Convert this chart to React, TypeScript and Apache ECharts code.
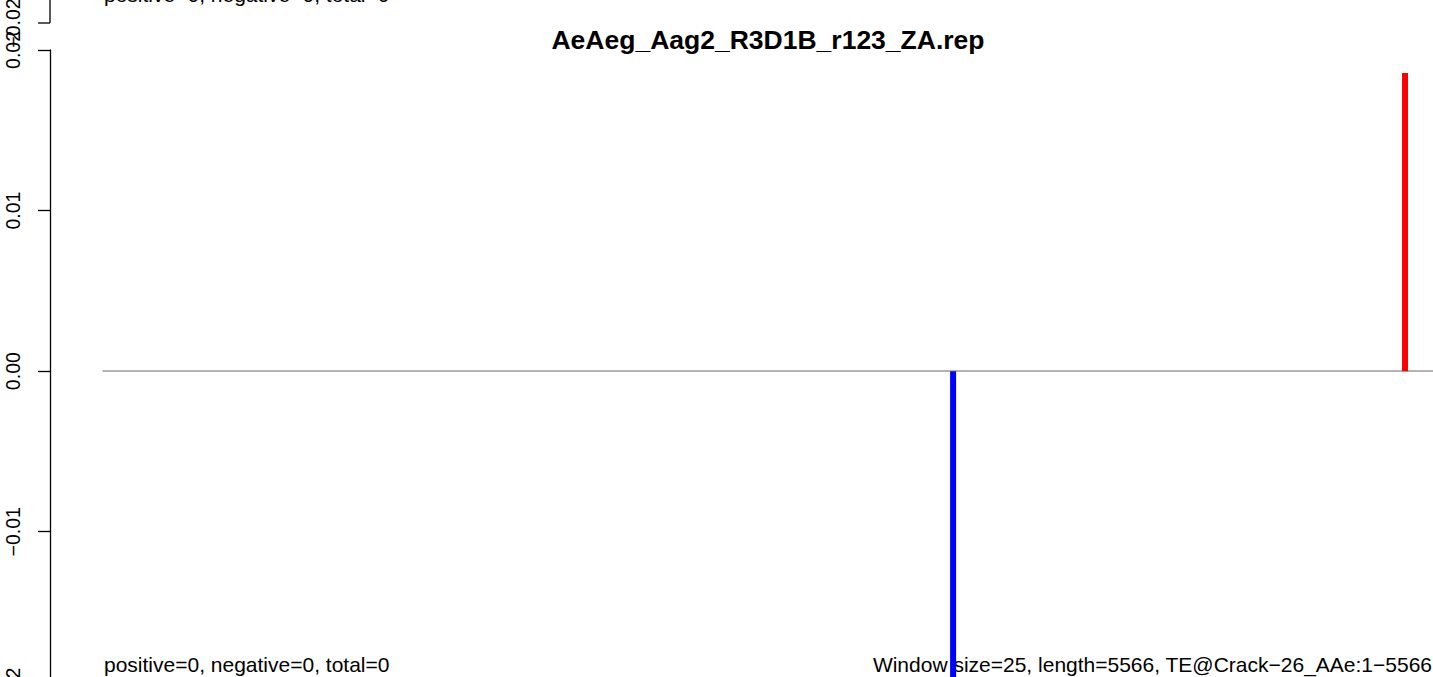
import React, { useEffect, useRef } from "react";
import * as echarts from "echarts";

const titleText = "AeAeg_Aag2_R3D1B_r123_ZA.rep";
const statsText = "positive=0, negative=0, total=0";
const infoText = "Window size=25, length=5566, TE@Crack\u221226_AAe:1\u22125566";
const seqLength = 5566;
const positivePositions = [5449];
const positiveValues = [0.01857];
const negativePositions = [3558];
const negativeValues = [-0.0195];
const yTicks = [-0.02, -0.01, 0, 0.01, 0.02];

const FONT = "'Liberation Sans', Arial, Helvetica, sans-serif";

const fmt = (v: number) => {
  const s = v.toFixed(2);
  return s.replace("-", "\u2212");
};

export default function App() {
  const ref = useRef<HTMLDivElement>(null);
  useEffect(() => {
    if (!ref.current) return;
    const chart = echarts.init(ref.current, undefined, { renderer: "svg" });
    const posData = positivePositions.map((p, i) => [p, positiveValues[i]]);
    const negData = negativePositions.map((p, i) => [p, negativeValues[i]]);
    chart.setOption({
      animation: false,
      backgroundColor: "#ffffff",
      grid: { left: 103, right: 0, top: 50, bottom: 27, containLabel: false },
      xAxis: {
        type: "value",
        min: 1,
        max: seqLength,
        axisLine: { show: true, onZero: true, lineStyle: { color: "#9a9a9a", width: 1.5 } },
        axisTick: { show: false },
        axisLabel: { show: false },
        splitLine: { show: false },
      },
      yAxis: {
        type: "value",
        min: yTicks[0],
        max: yTicks[yTicks.length - 1],
        interval: 0.01,
        offset: 53,
        axisLine: { show: true, lineStyle: { color: "#000", width: 1.3 } },
        axisTick: { show: true, length: 12, lineStyle: { color: "#000", width: 1.3 } },
        axisLabel: {
          show: true,
          rotate: 90,
          margin: 27,
          fontSize: 19.5,
          fontFamily: FONT,
          color: "#000",
          formatter: (v: number) => fmt(v),
        },
        splitLine: { show: false },
      },
      series: [
        {
          type: "bar",
          data: negData,
          barWidth: 6,
          itemStyle: { color: "#0000ff" },
          z: 5,
        },
        {
          type: "bar",
          data: posData,
          barWidth: 6,
          barGap: "-100%",
          itemStyle: { color: "#ff0000" },
          z: 5,
        },
      ],
      graphic: [
        {
          type: "text",
          x: 768,
          y: 40,
          z: 0,
          style: {
            text: titleText,
            font: `bold 26.5px ${FONT}`,
            fill: "#000",
            align: "center",
            verticalAlign: "middle",
          },
        },
        {
          type: "text",
          x: 104,
          y: 664,
          z: 0,
          style: {
            text: statsText,
            font: `21px ${FONT}`,
            fill: "#000",
            align: "left",
            verticalAlign: "middle",
          },
        },
        {
          type: "text",
          x: 1432,
          y: 664,
          z: 0,
          style: {
            text: infoText,
            font: `21px ${FONT}`,
            fill: "#000",
            align: "right",
            verticalAlign: "middle",
          },
        },
        {
          type: "text",
          x: 104,
          y: -6,
          z: 0,
          style: {
            text: statsText,
            font: `21px ${FONT}`,
            fill: "#000",
            align: "left",
            verticalAlign: "middle",
          },
        },
        {
          type: "line",
          z: 0,
          shape: { x1: 50, y1: 0, x2: 50, y2: 23 },
          style: { stroke: "#000", lineWidth: 1.3 },
        },
        {
          type: "line",
          z: 0,
          shape: { x1: 38, y1: 23, x2: 50, y2: 23 },
          style: { stroke: "#000", lineWidth: 1.3 },
        },
        {
          type: "text",
          x: 13,
          y: 23,
          rotation: Math.PI / 2,
          z: 0,
          style: {
            text: fmt(-0.02),
            font: `19.5px ${FONT}`,
            fill: "#000",
            align: "center",
            verticalAlign: "middle",
          },
        },
      ],
    });
    return () => chart.dispose();
  }, []);
  return (
    <div style={{ position: "fixed", left: 0, top: 0, width: 1433, height: 677, overflow: "hidden", background: "#fff" }}>
      <div ref={ref} style={{ width: 1433, height: 720 }} />
    </div>
  );
}
